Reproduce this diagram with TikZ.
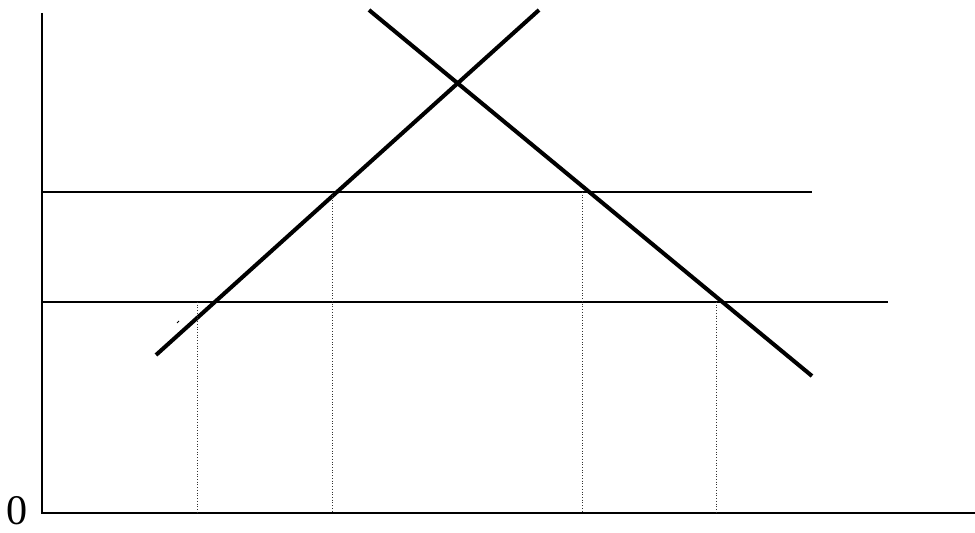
\documentclass[tikz,border=0pt]{standalone}
\usepackage{fontspec}
\setmainfont{Liberation Serif}
\usepackage{tikz}
\usetikzlibrary{positioning,calc}
\tikzset{
  curve/.style={black, line width=2.3pt},
  level/.style={black, line width=1.1pt},
  guide/.style={black!80, line width=0.55pt, densely dotted}
}

\begin{document}
\begin{tikzpicture}[x=0.02cm, y=-0.02cm]
        \useasboundingbox (0,0) rectangle (975,533);
        % axes
        \coordinate (O) at (42,513);
        \coordinate (ytop) at (42,13);
        \coordinate (xend) at (975,513);
        \draw[level] (ytop) -- (O) -- (xend);
        \node[font=\fontsize{24}{27}\selectfont, inner sep=0pt] (zero) at (17,511) {0};
        % price levels
        \coordinate (hiL) at (42,192);
        \coordinate (hiR) at (812,192);
        \coordinate (loL) at (42,302);
        \coordinate (loR) at (888,302);
        \draw[level] (hiL) -- (hiR);
        \draw[level] (loL) -- (loR);
        % supply and demand
        \coordinate (s1) at (156,355);
        \coordinate (s2) at (539,10);
        \coordinate (d1) at (369,10);
        \coordinate (d2) at (812,376);
        \draw[curve] (s1) -- (s2);
        \draw[curve] (d1) -- (d2);
        % quantities
        \coordinate (qa) at (197,302);
        \coordinate (qb) at (332,192);
        \coordinate (qc) at (582,192);
        \coordinate (qd) at (716,302);
        \draw[guide] (qa) -- (qa |- O);
        \draw[guide] (qb) -- (qb |- O);
        \draw[guide] (qc) -- (qc |- O);
        \draw[guide] (qd) -- (qd |- O);
        % stray mark
        \coordinate (m1) at (177,323);
        \coordinate (m2) at (179,321);
        \draw[line width=0.6pt] (m1) -- (m2);
      \end{tikzpicture}
\end{document}
